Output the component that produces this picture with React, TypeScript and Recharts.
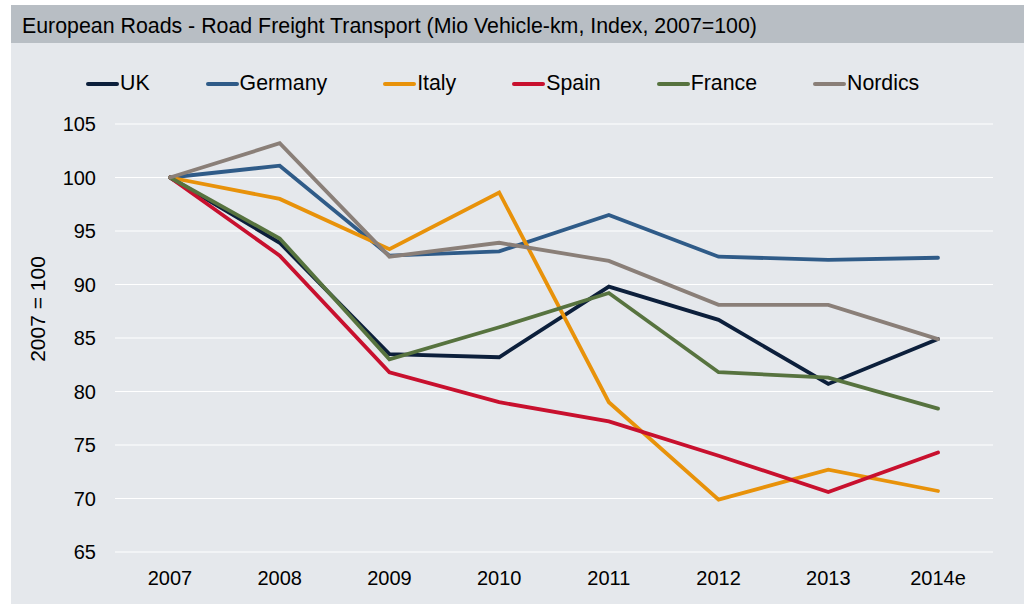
import { LineChart, Line, XAxis, YAxis, CartesianGrid, Legend } from "recharts";

const FONT = '"Liberation Sans", Arial, sans-serif';

const years = ["2007", "2008", "2009", "2010", "2011", "2012", "2013", "2014e"];
const yTicks = [65, 70, 75, 80, 85, 90, 95, 100, 105];

const uk = [100, 93.9, 83.5, 83.2, 89.8, 86.7, 80.7, 84.9];
const germany = [100, 101.1, 92.7, 93.1, 96.5, 92.6, 92.3, 92.5];
const italy = [100, 98.0, 93.3, 98.6, 79.0, 69.9, 72.7, 70.7];
const spain = [100, 92.7, 81.8, 79.0, 77.2, 74.0, 70.6, 74.3];
const france = [100, 94.3, 83.0, 86.0, 89.2, 81.8, 81.3, 78.4];
const nordics = [100, 103.2, 92.6, 93.9, 92.2, 88.1, 88.1, 84.9];

const series = [
  { key: "uk", name: "UK", color: "#0c1f3b", values: uk },
  { key: "germany", name: "Germany", color: "#2f5b88", values: germany },
  { key: "italy", name: "Italy", color: "#e8920a", values: italy },
  { key: "spain", name: "Spain", color: "#c8102e", values: spain },
  { key: "france", name: "France", color: "#57733f", values: france },
  { key: "nordics", name: "Nordics", color: "#8a7f78", values: nordics },
];

const data = years.map((year, i) => {
  const row: Record<string, string | number> = { year };
  series.forEach((s) => {
    row[s.key] = s.values[i];
  });
  return row;
});

function LegendRow() {
  return (
    <div style={{ display: "flex", alignItems: "center", gap: 56, fontSize: 21.3, fontFamily: FONT, color: "#000", whiteSpace: "nowrap" }}>
      {series.map((s) => (
        <div key={s.key} style={{ display: "flex", alignItems: "center" }}>
          <span style={{ display: "inline-block", width: 33, height: 4, borderRadius: 2, background: s.color, marginRight: 1 }} />
          <span>{s.name}</span>
        </div>
      ))}
    </div>
  );
}

export default function App() {
  return (
    <div style={{ position: "absolute", left: 0, top: 0, width: 1026, height: 605, background: "#fff", fontFamily: FONT }}>
      <div style={{ position: "absolute", left: 11, top: 5, width: 1013, height: 599, background: "#e5e8ec" }} />
      <div style={{ position: "absolute", left: 11, top: 5, width: 1013, height: 38, background: "#b8bec4" }} />
      <div style={{ position: "absolute", left: 22, top: 14, fontSize: 21.35, color: "#000", whiteSpace: "nowrap" }}>
        European Roads - Road Freight Transport (Mio Vehicle-km, Index, 2007=100)
      </div>
      <div
        style={{
          position: "absolute",
          left: 38,
          top: 309,
          transform: "translate(-50%, -50%) rotate(-90deg)",
          fontSize: 21,
          color: "#000",
          whiteSpace: "nowrap",
        }}
      >
        2007 = 100
      </div>
      <div style={{ position: "absolute", left: 0, top: 0 }}>
        <LineChart width={1026} height={605} data={data} margin={{ top: 124, right: 33, left: 55, bottom: 23 }}>
          <CartesianGrid vertical={false} stroke="#ffffff" strokeWidth={1.2} />
          <XAxis
            dataKey="year"
            axisLine={false}
            tickLine={false}
            tickMargin={13}
            height={30}
            padding={{ left: 55, right: 55 }}
            tick={{ fontSize: 20, fill: "#000", fontFamily: FONT }}
          />
          <YAxis
            domain={[65, 105]}
            ticks={yTicks}
            axisLine={false}
            tickLine={false}
            tickMargin={13}
            width={60}
            tick={{ fontSize: 20, fill: "#000", fontFamily: FONT }}
          />
          <Legend
            layout="horizontal"
            verticalAlign="middle"
            align="center"
            content={<LegendRow />}
            wrapperStyle={{ top: 71, left: 86, width: "auto" }}
          />
          {series.map((s) => (
            <Line
              key={s.key}
              type="linear"
              dataKey={s.key}
              name={s.name}
              stroke={s.color}
              strokeWidth={3.8}
              strokeLinecap="round"
              dot={false}
              activeDot={false}
              isAnimationActive={false}
            />
          ))}
        </LineChart>
      </div>
    </div>
  );
}
